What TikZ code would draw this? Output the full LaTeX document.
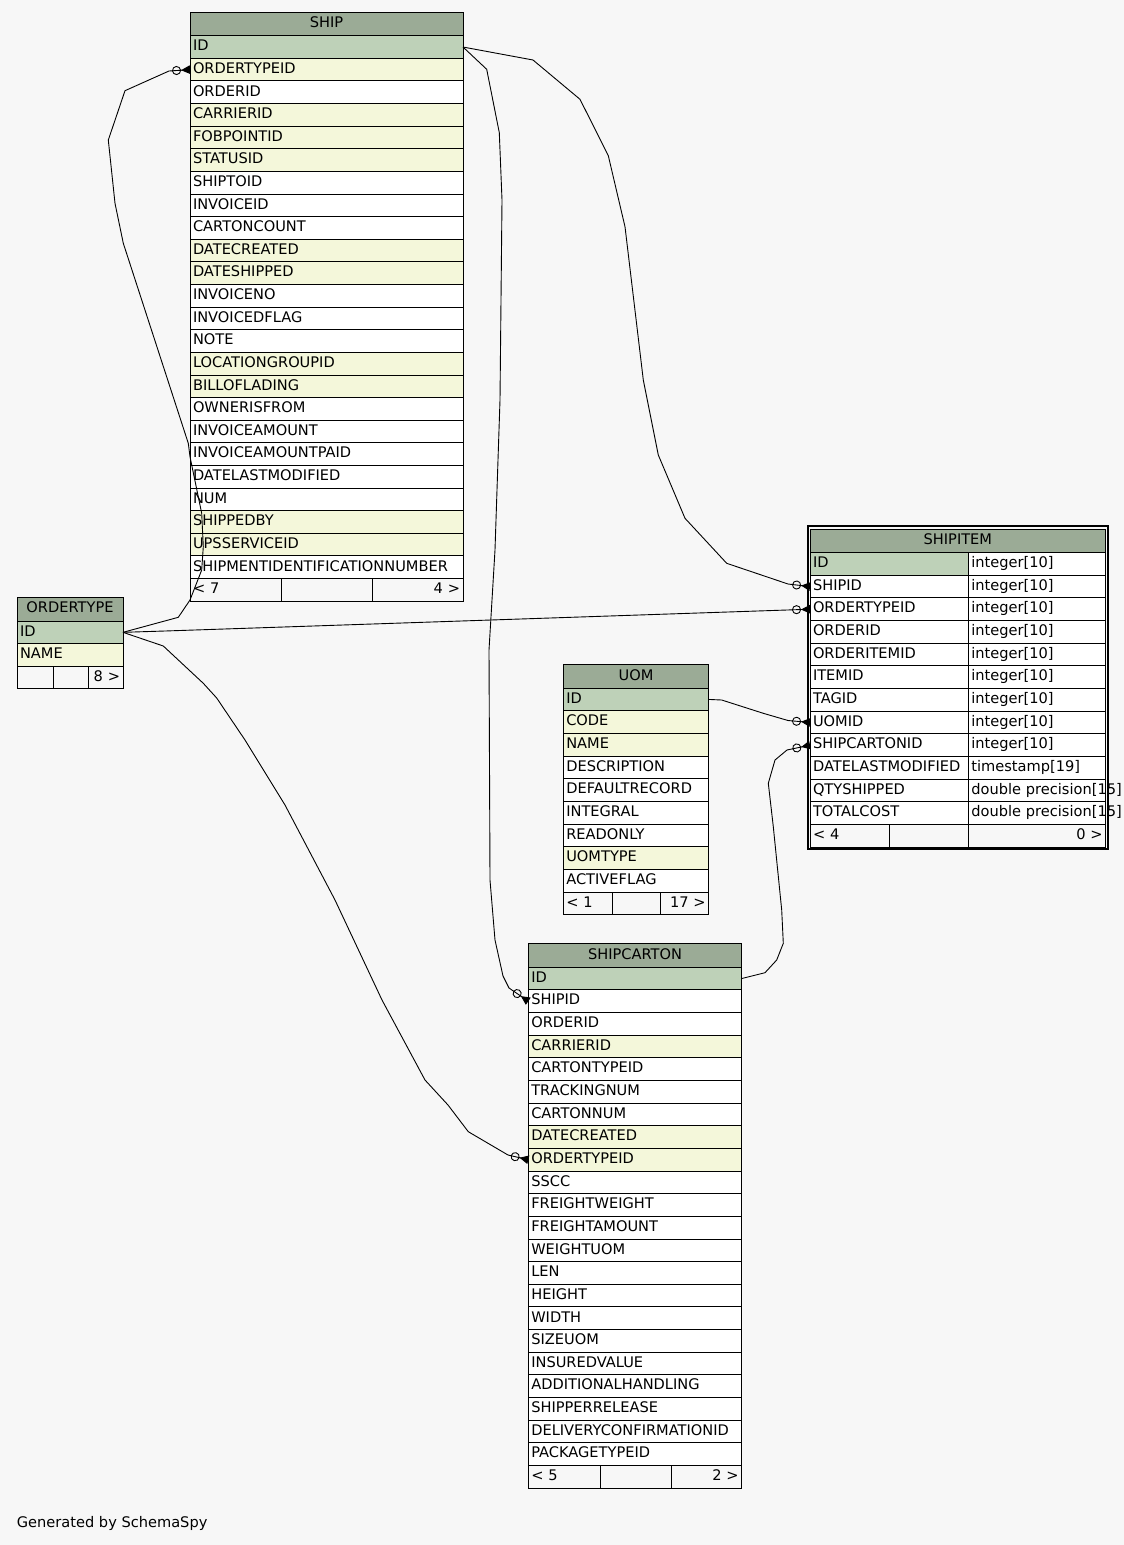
\documentclass[tikz,border=0pt]{standalone}
\usepackage{fontspec}
\setmainfont{DejaVu Sans}
\usetikzlibrary{arrows.meta}
\definecolor{headbg}{HTML}{9BAB96}
\definecolor{keybg}{HTML}{BED1B8}
\definecolor{idxbg}{HTML}{F4F7DA}
\definecolor{pagebg}{HTML}{F7F7F7}

\begin{document}
\begin{tikzpicture}[x=1pt, y=-1pt,
  font=\fontsize{14.6}{17}\selectfont,
  cell/.style={draw, line width=1pt, anchor=north west, inner xsep=3pt, inner ysep=0pt,
               outer sep=0pt, minimum height=22.65pt, text height=11pt, text depth=3.5pt,
               align=left, fill=white},
  headcell/.style={cell, fill=headbg, minimum height=23.7pt, align=center},
  footcell/.style={cell, fill=pagebg},
  fk/.style={line width=0.9pt,
             -{Circle[open, length=9pt, width=9pt] Triangle[reversed, length=9pt, width=8.5pt]}}]
  \useasboundingbox (0,0) rectangle (1124,1545);
  \fill[pagebg] (0,0) rectangle (1124,1545);

  % SHIP
  \node[headcell, text width=267pt] (ship) at (190,12) {SHIP};
  \foreach \c/\f [count=\i] in {ID/keybg, ORDERTYPEID/idxbg, ORDERID/white, CARRIERID/idxbg,
      FOBPOINTID/idxbg, STATUSID/idxbg, SHIPTOID/white, INVOICEID/white, CARTONCOUNT/white,
      DATECREATED/idxbg, DATESHIPPED/idxbg, INVOICENO/white, INVOICEDFLAG/white, NOTE/white,
      LOCATIONGROUPID/idxbg, BILLOFLADING/idxbg, OWNERISFROM/white, INVOICEAMOUNT/white,
      INVOICEAMOUNTPAID/white, DATELASTMODIFIED/white, NUM/white, SHIPPEDBY/idxbg,
      UPSSERVICEID/idxbg, SHIPMENTIDENTIFICATIONNUMBER/white}
    \node[cell, fill=\f, text width=267pt] (ship-\i) at (190,{35.7+22.62*(\i-1)}) {\c};
  \node[footcell, text width=85pt] (ship-f1) at (190,578.6) {< 7};
  \node[footcell, text width=85pt] (ship-f2) at (281,578.6) {};
  \node[footcell, text width=85pt, align=right] (ship-f3) at (372,578.6) {4 >};

  % ORDERTYPE
  \node[headcell, text width=100pt] (ordertype) at (17,597.3) {ORDERTYPE};
  \foreach \c/\f [count=\i] in {ID/keybg, NAME/idxbg}
    \node[cell, fill=\f, text width=100pt] (ordertype-\i) at (17,{621+22.65*(\i-1)}) {\c};
  \node[footcell, text width=30pt] (ordertype-f1) at (17,666.3) {};
  \node[footcell, text width=29pt] (ordertype-f2) at (53,666.3) {};
  \node[footcell, text width=29pt, align=right] (ordertype-f3) at (88,666.3) {8 >};

  % SHIPITEM
  \draw[line width=2.2pt] (807.7,525.9) rectangle (1108,849.2);
  \node[headcell, text width=289.7pt] (item) at (810,529) {SHIPITEM};
  \foreach \c/\t/\f [count=\i] in {ID/integer[10]/keybg, SHIPID/integer[10]/white,
      ORDERTYPEID/integer[10]/white, ORDERID/integer[10]/white, ORDERITEMID/integer[10]/white,
      ITEMID/integer[10]/white, TAGID/integer[10]/white, UOMID/integer[10]/white,
      SHIPCARTONID/integer[10]/white, DATELASTMODIFIED/timestamp[19]/white,
      QTYSHIPPED/double precision[15]/white, TOTALCOST/double precision[15]/white}
  {
    \node[cell, fill=\f, text width=152.3pt] (item-\i) at (810,{552.6+22.65*(\i-1)}) {\c};
    \node[cell, text width=131.4pt] (type-\i) at (968.3,{552.6+22.65*(\i-1)}) {\mbox{\t}};
  }
  \node[footcell, text width=73.3pt] (item-f1) at (810,824.4) {< 4};
  \node[footcell, text width=73pt] (item-f2) at (889.3,824.4) {};
  \node[footcell, text width=131.4pt, align=right] (item-f3) at (968.3,824.4) {0 >};

  % UOM
  \node[headcell, text width=139.4pt] (uom) at (563.3,664.4) {UOM};
  \foreach \c/\f [count=\i] in {ID/keybg, CODE/idxbg, NAME/idxbg, DESCRIPTION/white,
      DEFAULTRECORD/white, INTEGRAL/white, READONLY/white, UOMTYPE/idxbg, ACTIVEFLAG/white}
    \node[cell, fill=\f, text width=139.4pt] (uom-\i) at (563.3,{688.1+22.68*(\i-1)}) {\c};
  \node[footcell, text width=43pt] (uom-f1) at (563.3,892.2) {< 1};
  \node[footcell, text width=42pt] (uom-f2) at (612.3,892.2) {};
  \node[footcell, text width=42.4pt, align=right] (uom-f3) at (660.3,892.2) {17 >};

  % SHIPCARTON
  \node[headcell, text width=207.4pt] (carton) at (528.3,943.4) {SHIPCARTON};
  \foreach \c/\f [count=\i] in {ID/keybg, SHIPID/white, ORDERID/white, CARRIERID/idxbg,
      CARTONTYPEID/white, TRACKINGNUM/white, CARTONNUM/white, DATECREATED/idxbg,
      ORDERTYPEID/idxbg, SSCC/white, FREIGHTWEIGHT/white, FREIGHTAMOUNT/white, WEIGHTUOM/white,
      LEN/white, HEIGHT/white, WIDTH/white, SIZEUOM/white, INSUREDVALUE/white,
      ADDITIONALHANDLING/white, SHIPPERRELEASE/white, DELIVERYCONFIRMATIONID/white,
      PACKAGETYPEID/white}
    \node[cell, fill=\f, text width=207.4pt] (carton-\i) at (528.3,{967.2+22.65*(\i-1)}) {\c};
  \node[footcell, text width=66pt] (carton-f1) at (528.3,1465.5) {< 5};
  \node[footcell, text width=65pt] (carton-f2) at (600.3,1465.5) {};
  \node[footcell, text width=64.4pt, align=right] (carton-f3) at (671.3,1465.5) {2 >};

  \node[anchor=base west, inner sep=0pt] (credit) at (16.7,1527.3) {Generated by SchemaSpy};

  % relationships
  \draw[fk] (ship-1.east) -- (533,60) -- (580,99.3) -- (608.3,155.7) -- (625,226.7)
    -- (643.3,380) -- (658.3,455) -- (685,518.3) -- (726.7,563.3) -- (788,584) -- (item-2.west);
  \draw[fk] (ship-1.east) -- (486.7,69.3) -- (499.3,132.7) -- (502,200) -- (500,400)
    -- (495,550) -- (489,650) -- (490,880) -- (495,940) -- (503,976) -- (509,988) -- (carton-2.west);
  \draw[fk] (ordertype-1.east) -- (178.3,617.3) -- (190,600) -- (201.7,570) -- (203.3,546.7)
    -- (201.7,513.3) -- (190,456.7) -- (188.3,443.3) -- (123.3,243.3) -- (115,203.3)
    -- (108.3,140) -- (125,90.7) -- (169,71) -- (ship-2.west);
  \draw[fk] (ordertype-1.east) -- (165,631) -- (item-3.west);
  \draw[fk] (ordertype-1.east) -- (163.3,646) -- (203.3,683.3) -- (216.7,698) -- (245,740)
    -- (285,805) -- (335,900) -- (382,1000) -- (425,1080) -- (448,1105) -- (468.3,1131.7)
    -- (508,1155) -- (carton-9.west);
  \draw[fk] (uom-1.east) -- (721.7,700) -- (763.3,713.3) -- (788,720.5) -- (item-8.west);
  \draw[fk] (carton-1.east) -- (765,972.7) -- (776.7,960) -- (783.3,943.3) -- (781.7,910)
    -- (773.3,826.7) -- (768.3,783.3) -- (775,760) -- (787,750) -- (item-9.west);
\end{tikzpicture}
\end{document}
